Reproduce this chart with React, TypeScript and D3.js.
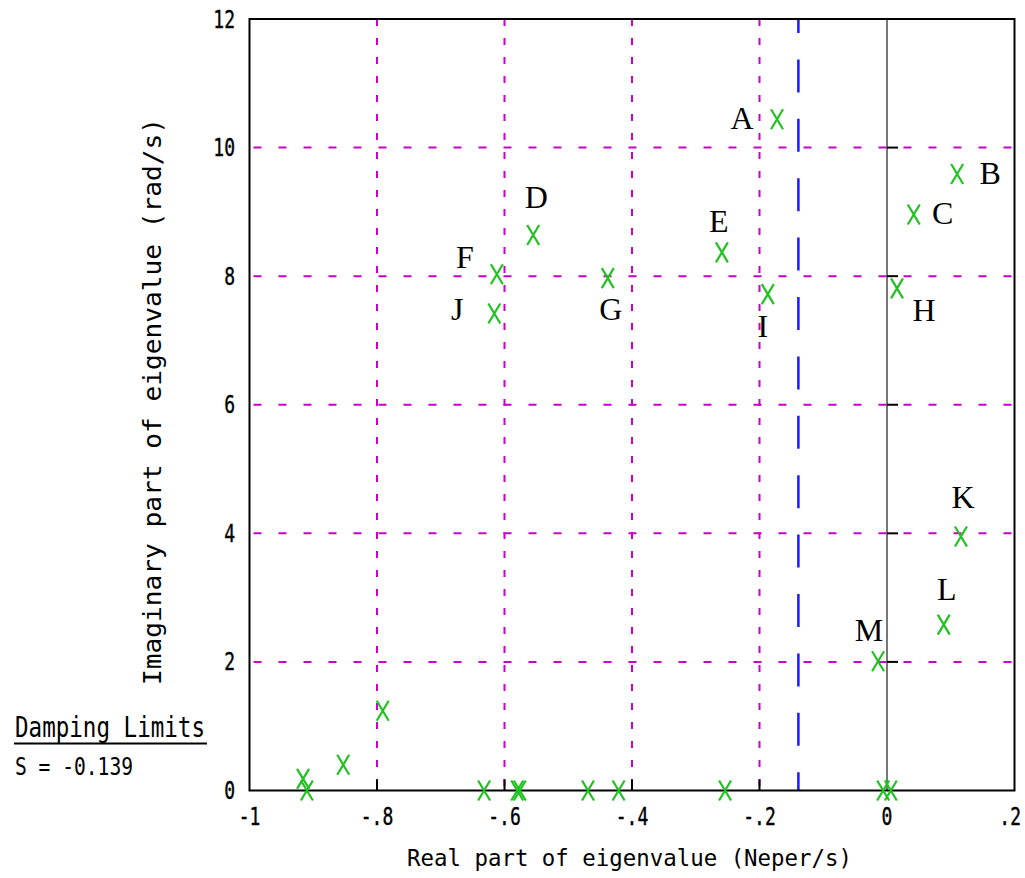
import React from "react";
import * as d3 from "d3";

const labelNames = ["A", "B", "C", "D", "E", "F", "G", "H", "I", "J", "K", "L", "M"];
const labelRe = [-0.1725, 0.11, 0.042, -0.555, -0.259, -0.612, -0.438, 0.0157, -0.187, -0.616, 0.116, 0.089, -0.014];
const labelIm = [10.44, 9.59, 8.96, 8.64, 8.37, 8.03, 7.97, 7.81, 7.72, 7.42, 3.95, 2.58, 2.01];

const otherRe = [-0.791, -0.853, -0.916, -0.91, -0.632, -0.58, -0.576, -0.469, -0.421, -0.254, -0.006, 0.006];
const otherIm = [1.24, 0.4, 0.18, 0, 0, 0, 0, 0, 0, 0, 0, 0];

const xTicks = [-1, -0.8, -0.6, -0.4, -0.2, 0, 0.2];
const xTickLabels = ["-1", "-.8", "-.6", "-.4", "-.2", "0", ".2"];
const yTicks = [0, 2, 4, 6, 8, 10, 12];
const yTickLabels = ["0", "2", "4", "6", "8", "10", "12"];
const xGrid = [-0.8, -0.6, -0.4, -0.2];
const yGrid = [2, 4, 6, 8, 10];
const dampingLimit = -0.139;

// layout: label offsets (dx, dy) from marker in pixels
const labelOffsets: [number, number][] = [
  [-35, 10], [33, 10], [29, 10], [3, -27], [-3, -20], [-32, -6], [3, 42],
  [27, 33], [-5, 43], [-37, 7], [2, -29], [3, -25], [-9, -20],
];

const L = 249.5, R = 1014.5, T = 19, B = 790.5;
const x = d3.scaleLinear().domain([-1, 0.2]).range([L, R]);
const y = d3.scaleLinear().domain([0, 12]).range([B, T]);

const MONO = "'DejaVu Sans Mono', monospace";
const GREEN = "#1fc21f";
const MAG = "#c800c8";
const SQ = 0.75; // horizontal squeeze of tick labels

function Marker({ cx, cy }: { cx: number; cy: number }) {
  return (
    <path
      d={`M${cx - 6},${cy - 10} L${cx + 6},${cy + 10} M${cx + 6},${cy - 10} L${cx - 6},${cy + 10}`}
      stroke={GREEN}
      strokeWidth={2.2}
      fill="none"
    />
  );
}

export default function App() {
  const lastX = xTicks.length - 1;
  return (
    <svg width={1025} height={878} style={{ position: "absolute", left: 0, top: 0, background: "#fff" }}>
      <rect width={1025} height={878} fill="#fff" />
      {/* grid */}
      {xGrid.map((v) => (
        <line key={"xg" + v} x1={x(v)} x2={x(v)} y1={T} y2={B} stroke={MAG} strokeWidth={2} strokeDasharray="7,12" />
      ))}
      {yGrid.map((v) => (
        <line key={"yg" + v} x1={L} x2={R} y1={y(v)} y2={y(v)} stroke={MAG} strokeWidth={2} strokeDasharray="8,17" strokeDashoffset={-4} />
      ))}
      {/* zero line */}
      <line x1={x(0)} x2={x(0)} y1={T} y2={B} stroke="#555" strokeWidth={1.6} />
      {yGrid.map((v) => (
        <line key={"zt" + v} x1={x(0)} x2={x(0) + 11} y1={y(v)} y2={y(v)} stroke="#000" strokeWidth={2} />
      ))}
      {xGrid.map((v) => (
        <line key={"bt" + v} x1={x(v)} x2={x(v)} y1={B} y2={B - 11} stroke="#000" strokeWidth={2} />
      ))}
      {/* damping limit */}
      <line x1={x(dampingLimit)} x2={x(dampingLimit)} y1={T} y2={B} stroke="#1a1aff" strokeWidth={2.5} strokeDasharray="33,26.4" strokeDashoffset={19} />
      {/* frame */}
      <rect x={L} y={T} width={R - L} height={B - T} fill="none" stroke="#000" strokeWidth={2} />
      {/* tick labels */}
      {yTicks.map((v, i) => (
        <text key={"yl" + v} transform={`translate(235,${y(v) + 8.5}) scale(${SQ},1)`} textAnchor="end" fontFamily={MONO} fontSize={24}
          fill="#000" stroke="#000" strokeWidth={0.4}>
          {yTickLabels[i]}
        </text>
      ))}
      {xTicks.map((v, i) => (
        <text key={"xl" + v} transform={`translate(${i === lastX ? 1021 : x(v)},825) scale(${SQ},1)`}
          textAnchor={i === lastX ? "end" : "middle"} fontFamily={MONO} fontSize={24}
          fill="#000" stroke="#000" strokeWidth={0.4}>
          {xTickLabels[i]}
        </text>
      ))}
      {/* axis titles */}
      <text x={(407 + 852) / 2} y={866} textAnchor="middle" fontFamily={MONO} fontSize={23}
        textLength={445} lengthAdjust="spacingAndGlyphs" fill="#000">
        Real part of eigenvalue (Neper/s)
      </text>
      <text transform={`translate(161,${(118 + 685) / 2}) rotate(-90)`} textAnchor="middle" fontFamily={MONO} fontSize={24}
        textLength={567} lengthAdjust="spacingAndGlyphs" fill="#000">
        Imaginary part of eigenvalue (rad/s)
      </text>
      {/* damping legend */}
      <text x={15} y={737} fontFamily={MONO} fontSize={28} textLength={190} lengthAdjust="spacingAndGlyphs" fill="#000">
        Damping Limits
      </text>
      <line x1={14} x2={207} y1={743.5} y2={743.5} stroke="#000" strokeWidth={2} />
      <text x={15} y={775} fontFamily={MONO} fontSize={25} textLength={118} lengthAdjust="spacingAndGlyphs" fill="#000">
        {"S = " + dampingLimit.toFixed(3)}
      </text>
      {/* points */}
      {otherRe.map((v, i) => (
        <Marker key={"o" + i} cx={x(v)} cy={y(otherIm[i])} />
      ))}
      {labelRe.map((v, i) => (
        <Marker key={"p" + i} cx={x(v)} cy={y(labelIm[i])} />
      ))}
      {labelNames.map((n, i) => (
        <text key={"t" + n} x={x(labelRe[i]) + labelOffsets[i][0]} y={y(labelIm[i]) + labelOffsets[i][1]}
          textAnchor="middle" fontFamily="'Liberation Serif', 'Times New Roman', serif" fontSize={32} fill="#000">
          {n}
        </text>
      ))}
    </svg>
  );
}
